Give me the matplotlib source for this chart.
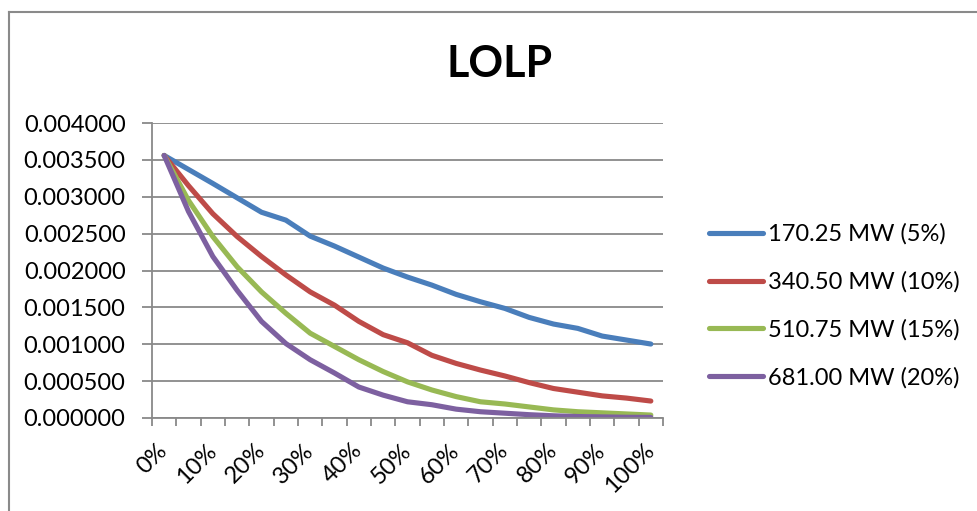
import matplotlib
matplotlib.use('Agg')
import matplotlib.pyplot as plt
from matplotlib.lines import Line2D
import numpy as np

plt.rcParams['font.family'] = ['Lato', 'DejaVu Sans']

# data
categories = ['%d%%' % p for p in range(0, 105, 5)]
series_names = ['170.25 MW (5%)', '340.50 MW (10%)', '510.75 MW (15%)', '681.00 MW (20%)']
mw_5 = [0.003560, 0.003370, 0.003180, 0.002985, 0.002790, 0.002683, 0.002466,
        0.002331, 0.002182, 0.002033, 0.001911, 0.001802, 0.001676, 0.001576,
        0.001486, 0.001364, 0.001274, 0.001215, 0.001111, 0.001057, 0.001003]
mw_10 = [0.003560, 0.003150, 0.002770, 0.002460, 0.002190, 0.001940, 0.001710,
         0.001530, 0.001310, 0.001130, 0.001020, 0.000850, 0.000740, 0.000650,
         0.000570, 0.000480, 0.000400, 0.000350, 0.000300, 0.000270, 0.000230]
mw_15 = [0.003560, 0.002950, 0.002460, 0.002050, 0.001710, 0.001420, 0.001150,
         0.000970, 0.000790, 0.000630, 0.000490, 0.000380, 0.000290, 0.000220,
         0.000190, 0.000150, 0.000110, 0.000085, 0.000070, 0.000055, 0.000040]
mw_20 = [0.003560, 0.002800, 0.002190, 0.001730, 0.001310, 0.001010, 0.000790,
         0.000610, 0.000420, 0.000310, 0.000220, 0.000180, 0.000120, 0.000085,
         0.000065, 0.000045, 0.000030, 0.000020, 0.000015, 0.000010, 0.000008]
colors = ['#4A7EBB', '#BE4B48', '#98B954', '#7D60A0']

W, H = 977, 511
fig = plt.figure(figsize=(W / 100, H / 100), dpi=100)
ax = fig.add_axes([152 / W, 1 - 418 / H, (663 - 152) / W, (418 - 123) / H])

x = np.arange(len(categories))
for vals, name, c in zip([mw_5, mw_10, mw_15, mw_20], series_names, colors):
    ax.plot(x, vals, color=c, lw=3.7, label=name, solid_capstyle='round',
            solid_joinstyle='round')

grid_c = '#898989'
ax.set_xlim(-0.5, len(categories) - 0.5)
ax.set_ylim(0, 0.004)
ax.set_yticks(np.arange(0, 0.0040001, 0.0005))
ax.set_yticklabels(['%.6f' % v for v in np.arange(0, 0.0040001, 0.0005)])
ax.yaxis.grid(True, color=grid_c, lw=1.3)
ax.set_axisbelow(True)

# category boundaries as ticks, labels every second category
ax.set_xticks(np.arange(-0.5, len(categories), 1.0))
ax.set_xticklabels([])
ax.set_xticks(x[::2], minor=True)
ax.set_xticklabels(categories[::2], minor=True, rotation=45, ha='right',
                   va='center', rotation_mode='anchor')
ax.tick_params(axis='x', which='major', length=6, width=1.3, color=grid_c)
ax.tick_params(axis='x', which='minor', length=0, pad=21, labelsize=17)
ax.tick_params(axis='y', length=7, width=1.3, color=grid_c, pad=12, labelsize=17)

for s in ['top', 'right']:
    ax.spines[s].set_visible(False)
for s in ['left', 'bottom']:
    ax.spines[s].set_color(grid_c)
    ax.spines[s].set_linewidth(1.3)

ax.legend(loc='center left', bbox_to_anchor=(709 / W, 1 - 306 / H),
          bbox_transform=fig.transFigure, frameon=False, fontsize=17,
          handlelength=2.3, handletextpad=0.22, labelspacing=1.12,
          borderaxespad=0, borderpad=0)

fig.text(499.5 / W, 1 - 77 / H, 'LOLP', ha='center', va='baseline',
         fontsize=31, fontweight='bold')

# outer chart border
fig.add_artist(Line2D([9 / W, 9 / W], [0, 1 - 12 / H], color='#8a8a8a', lw=1.5,
                      transform=fig.transFigure))
fig.add_artist(Line2D([9 / W, 1], [1 - 12 / H, 1 - 12 / H], color='#8a8a8a', lw=1.5,
                      transform=fig.transFigure))

fig.savefig('out.png', dpi=100, facecolor='white')
